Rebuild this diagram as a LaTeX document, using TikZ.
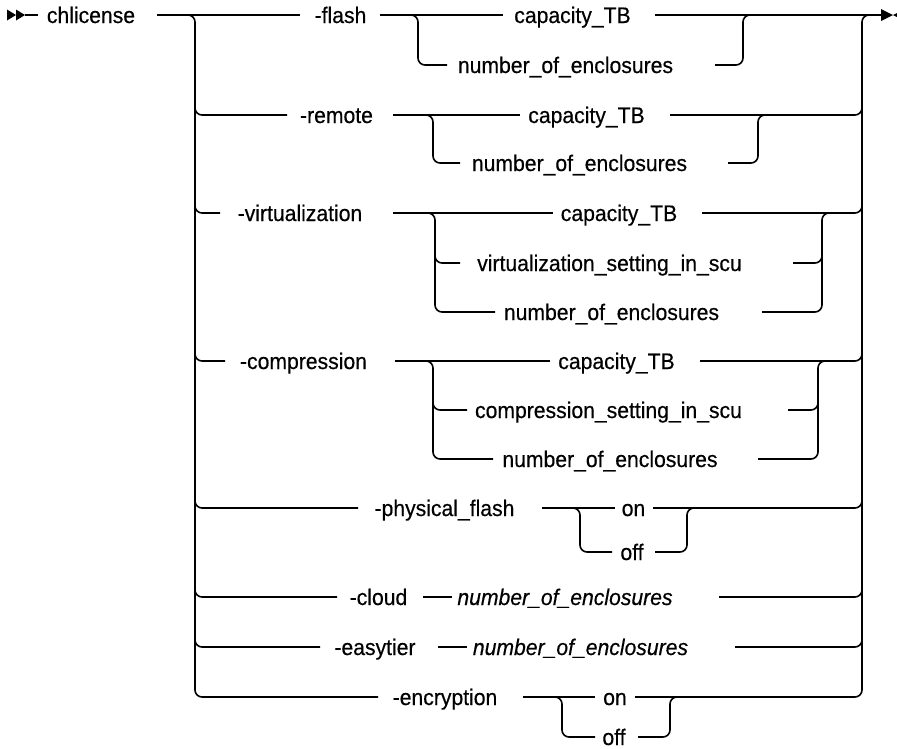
\documentclass[tikz,border=0pt]{standalone}
\usepackage{fontspec}
\setmainfont[FakeStretch=0.94,FakeBold=0.4]{Liberation Sans}
\begin{document}
\begin{tikzpicture}[x=1pt,y=-1pt,
  rail/.style={line width=1.6pt, rounded corners=7pt},
  kw/.style={font=\fontsize{22.5}{26}\selectfont, inner sep=0pt, anchor=base},
  var/.style={inner sep=0pt, anchor=base, font=\fontsize{22.5}{26}\selectfont\itshape}]
\useasboundingbox (0,0) rectangle (897,748);
% text nodes
\node[kw] (cmd) at (91,23) {chlicense};
\node[kw] (flash) at (340.5,23) {-flash};
\node[kw] (fcap) at (572.5,23) {capacity\_TB};
\node[kw] (fnoe) at (565.5,73) {number\_of\_enclosures};
\node[kw] (remote) at (336.5,123) {-remote};
\node[kw] (rcap) at (586.5,123) {capacity\_TB};
\node[kw] (rnoe) at (579.5,171) {number\_of\_enclosures};
\node[kw] (virt) at (300,221) {-virtualization};
\node[kw] (vcap) at (619,221) {capacity\_TB};
\node[kw] (vset) at (609.5,271) {virtualization\_setting\_in\_scu};
\node[kw] (vnoe) at (611.5,320) {number\_of\_enclosures};
\node[kw] (comp) at (303.5,369) {-compression};
\node[kw] (ccap) at (616.5,369) {capacity\_TB};
\node[kw] (cset) at (608.5,418) {compression\_setting\_in\_scu};
\node[kw] (cnoe) at (610,467) {number\_of\_enclosures};
\node[kw] (phys) at (444.5,516) {-physical\_flash};
\node[kw] (pon) at (633.5,516) {on};
\node[kw] (poff) at (632,560) {off};
\node[kw] (cloud) at (378.5,605) {-cloud};
\node[var] (cnum) at (565,605) {number\_of\_enclosures};
\node[kw] (easy) at (375,655) {-easytier};
\node[var] (enum) at (580.5,655) {number\_of\_enclosures};
\node[kw] (encr) at (445,705) {-encryption};
\node[kw] (eon) at (615,705) {on};
\node[kw] (eoff) at (614,745) {off};
% start and end marks
\fill (7,9.5) -- (16,15) -- (7,20.5) -- cycle;
\fill (16,9.5) -- (25,15) -- (16,20.5) -- cycle;
\draw[rail] (25,15) -- (38,15);
\fill (881,9) -- (893,15) -- (881,21) -- cycle;
\fill (893,15) -- (905,9) -- (905,21) -- cycle;
% main line and left rail
\draw[rail] (157,15) -- (300,15);
\draw[rail] (180,15) -- (195,15) -- (195,697) -- (378,697);
\draw[rail] (195,100) -- (195,115) -- (287,115);
\draw[rail] (195,198) -- (195,213) -- (220,213);
\draw[rail] (195,346) -- (195,361) -- (225,361);
\draw[rail] (195,493) -- (195,508) -- (358,508);
\draw[rail] (195,582) -- (195,597) -- (337,597);
\draw[rail] (195,632) -- (195,647) -- (320,647);
% flash
\draw[rail] (380,15) -- (503,15);
\draw[rail] (655,15) -- (882,15);
\draw[rail] (405,15) -- (418,15) -- (418,65) -- (447,65);
\draw[rail] (715,65) -- (743,65) -- (743,15) -- (756,15);
% remote
\draw[rail] (393,115) -- (520,115);
\draw[rail] (420,115) -- (433,115) -- (433,163) -- (460,163);
\draw[rail] (728,163) -- (758,163) -- (758,115) -- (771,115);
\draw[rail] (670,115) -- (862,115) -- (862,100);
% virtualization
\draw[rail] (393,213) -- (553,213);
\draw[rail] (422,213) -- (435,213) -- (435,312) -- (495,312);
\draw[rail] (435,250) -- (435,263) -- (460,263);
\draw[rail] (762,312) -- (822,312) -- (822,213) -- (835,213);
\draw[rail] (793,263) -- (822,263) -- (822,250);
\draw[rail] (702,213) -- (862,213) -- (862,198);
% compression
\draw[rail] (395,361) -- (550,361);
\draw[rail] (420,361) -- (433,361) -- (433,459) -- (493,459);
\draw[rail] (433,397) -- (433,410) -- (467,410);
\draw[rail] (758,459) -- (818,459) -- (818,361) -- (831,361);
\draw[rail] (788,410) -- (818,410) -- (818,397);
\draw[rail] (700,361) -- (862,361) -- (862,346);
% physical_flash
\draw[rail] (542,508) -- (615,508);
\draw[rail] (567,508) -- (580,508) -- (580,552) -- (612,552);
\draw[rail] (655,552) -- (687,552) -- (687,508) -- (700,508);
\draw[rail] (653,508) -- (862,508) -- (862,493);
% cloud
\draw[rail] (423,597) -- (452,597);
\draw[rail] (719,597) -- (862,597) -- (862,582);
% easytier
\draw[rail] (438,647) -- (467,647);
\draw[rail] (735,647) -- (862,647) -- (862,632);
% encryption
\draw[rail] (523,697) -- (595,697);
\draw[rail] (549,697) -- (562,697) -- (562,737) -- (595,737);
\draw[rail] (638,737) -- (670,737) -- (670,697) -- (683,697);
\draw[rail] (635,697) -- (862,697) -- (862,15) -- (882,15);
\end{tikzpicture}
\end{document}
